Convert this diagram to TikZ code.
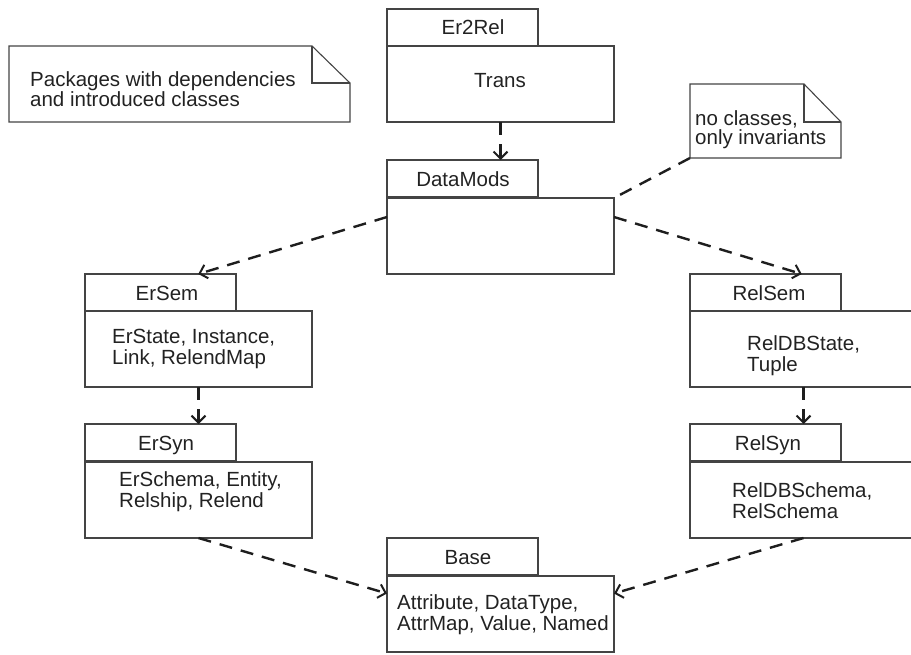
\documentclass[tikz,border=0pt]{standalone}
\usepackage{fontspec}
\setmainfont{Liberation Sans}
\usetikzlibrary{arrows.meta,calc}
\definecolor{boxgray}{HTML}{444444}
\definecolor{txt}{HTML}{222222}
\definecolor{dashc}{HTML}{1E1E1E}
\begin{document}
\begin{tikzpicture}[x=1pt,y=-1pt,
  box/.style={draw=boxgray, line width=1.3pt, inner sep=0pt, outer sep=0pt, anchor=north west},
  tab/.style={box, minimum width=151pt, minimum height=37pt},
  pbody/.style={box, minimum width=227pt, minimum height=76pt},
  ghost/.style={inner sep=0pt, outer sep=0pt, anchor=north west},
  notepath/.style={draw=boxgray, line width=1.1pt, line join=miter},
  lbl/.style={inner sep=0pt, anchor=base, text=txt, font=\fontsize{20.5}{21}\selectfont},
  line/.style={inner sep=0pt, anchor=base west, text=txt, font=\fontsize{20.5}{21}\selectfont},
  dep/.style={draw=dashc, line width=2.4pt, dash pattern=on 13pt off 9pt,
    -{Straight Barb[length=7pt,width=14pt,line width=2pt]}},
  link/.style={draw=dashc, line width=2.4pt, dash pattern=on 13pt off 9pt}
]
\useasboundingbox (0,0) rectangle (911,654);
\clip (0,0) rectangle (911,654);

% ---- note 1
\node[ghost, minimum width=341pt, minimum height=76pt] (note1) at (9,46) {};
\draw[notepath] (note1.south west) -- (note1.north west) -- ([xshift=-38pt]note1.north east)
  -- ([yshift=-37pt]note1.north east) -- (note1.south east) -- cycle;
\draw[notepath] ([xshift=-38pt]note1.north east) -- ([xshift=-38pt,yshift=-37pt]note1.north east)
  -- ([yshift=-37pt]note1.north east);
\node[line] (n1a) at (30,86) {Packages with dependencies};
\node[line] (n1b) at (30,106) {and introduced classes};

% ---- note 2
\node[ghost, minimum width=151pt, minimum height=74pt] (note2) at (690,84) {};
\draw[notepath] (note2.south west) -- (note2.north west) -- ([xshift=-37pt]note2.north east)
  -- ([yshift=-38pt]note2.north east) -- (note2.south east) -- cycle;
\draw[notepath] ([xshift=-37pt]note2.north east) -- ([xshift=-37pt,yshift=-38pt]note2.north east)
  -- ([yshift=-38pt]note2.north east);
\node[line] (n2a) at (695,125) {no classes,};
\node[line] (n2b) at (695,144) {only invariants};

% ---- Er2Rel
\node[tab] (er2relTab) at (387,9) {};
\node[pbody] (er2relBody) at (387,46) {};
\node[lbl] (er2relName) at (473,34) {Er2Rel};
\node[lbl] (er2relC) at (500,87) {Trans};

% ---- DataMods
\node[tab] (dmTab) at (387,160) {};
\node[pbody] (dmBody) at (387,198) {};
\node[lbl] (dmName) at (463,186) {DataMods};

% ---- ErSem
\node[tab] (ersemTab) at (85,274) {};
\node[pbody] (ersemBody) at (85,311) {};
\node[lbl] (ersemName) at (167,300) {ErSem};
\node[line] (ersemA) at (112,343) {ErState, Instance,};
\node[line] (ersemB) at (112,364) {Link, RelendMap};

% ---- ErSyn
\node[tab] (ersynTab) at (85,424) {};
\node[pbody] (ersynBody) at (85,462) {};
\node[lbl] (ersynName) at (166,450) {ErSyn};
\node[line] (ersynA) at (119,486) {ErSchema, Entity,};
\node[line] (ersynB) at (119,507) {Relship, Relend};

% ---- RelSem
\node[tab] (relsemTab) at (690,274) {};
\node[pbody] (relsemBody) at (690,311) {};
\node[lbl] (relsemName) at (769,300) {RelSem};
\node[line] (relsemA) at (747,350) {RelDBState,};
\node[line] (relsemB) at (747,371) {Tuple};

% ---- RelSyn
\node[tab] (relsynTab) at (690,424) {};
\node[pbody] (relsynBody) at (690,462) {};
\node[lbl] (relsynName) at (768,450) {RelSyn};
\node[line] (relsynA) at (732,497) {RelDBSchema,};
\node[line] (relsynB) at (732,518) {RelSchema};

% ---- Base
\node[tab] (baseTab) at (387,538) {};
\node[pbody] (baseBody) at (387,576) {};
\node[lbl] (baseName) at (468,564) {Base};
\node[line] (baseA) at (397,609) {Attribute, DataType,};
\node[line] (baseB) at (397,630) {AttrMap, Value, Named};

% ---- dependencies
\draw[dep] (er2relBody.south) -- (er2relBody.south |- dmTab.north);
\draw[dep] ($(dmBody.north west)!0.25!(dmBody.south west)$) -- ($(ersemTab.north west)!0.75!(ersemTab.north east)$);
\draw[dep] ($(dmBody.north east)!0.25!(dmBody.south east)$) -- ($(relsemTab.north west)!0.74!(relsemTab.north east)$);
\draw[dep] (ersemBody.south) -- (ersemBody.south |- ersynTab.north);
\draw[dep] (relsemBody.south) -- (relsemBody.south |- relsynTab.north);
\draw[dep] (ersynBody.south) -- ($(baseBody.north west)!0.23!(baseBody.south west)$);
\draw[dep] (relsynBody.south) -- ($(baseBody.north east)!0.23!(baseBody.south east)$);
\draw[link] (note2.south west) -- (dmBody.north east);
\end{tikzpicture}
\end{document}
